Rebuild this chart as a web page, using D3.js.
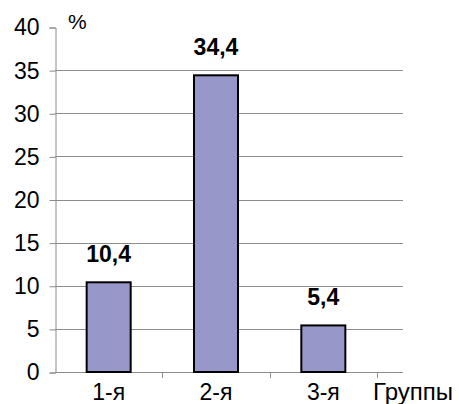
<!DOCTYPE html>
<html>
<head>
<meta charset="utf-8">
<script src="https://cdn.jsdelivr.net/npm/d3@7"></script>
<style>
  body { margin: 0; background: #fff; }
  text { font-family: "Liberation Sans", Arial, sans-serif; }
</style>
</head>
<body>
<div id="chart"></div>
<script>
// data
var groups = ["1-я", "2-я", "3-я"];
var percents = [10.4, 34.4, 5.4];
var valueLabels = ["10,4", "34,4", "5,4"];
var yTicks = [0, 5, 10, 15, 20, 25, 30, 35, 40];

var w = 459, h = 404;

var svg = d3.select("#chart")
    .append("svg")
    .attr("width", w)
    .attr("height", h);

// plot area (note: "top" is taken by window.top)
var plotLeft = 55, plotRight = 377, gridEnd = 403, plotTop = 27, plotBottom = 372;

var x = d3.scaleBand().domain(groups).range([plotLeft, plotRight]).paddingInner(0.59).paddingOuter(0.295);
var xTicks = d3.scaleBand().domain(groups).range([plotLeft, plotRight]);
var y = d3.scaleLinear().domain([0, 40]).range([plotBottom, plotTop]);

// gridlines
svg.append("g")
    .selectAll("line")
    .data(yTicks.filter(function(d) { return d > 0 && d < 40; }))
    .enter()
    .append("line")
    .attr("x1", plotLeft)
    .attr("x2", gridEnd)
    .attr("y1", function(d) { return Math.round(y(d)) + 0.5; })
    .attr("y2", function(d) { return Math.round(y(d)) + 0.5; })
    .attr("stroke", "#8c8c8c")
    .attr("stroke-width", 1);

// y axis
var yAxis = d3.axisLeft(y).tickValues(yTicks).tickSize(6).tickPadding(10);
var gy = svg.append("g")
    .attr("transform", "translate(" + (plotLeft + 0.5) + ",0.5)")
    .call(yAxis);
gy.select(".domain").attr("stroke", "#8c8c8c");
gy.selectAll(".tick line").attr("stroke", "#8c8c8c");
gy.selectAll(".tick text")
    .attr("font-size", 23)
    .attr("fill", "#000")
    .style("font-family", "'Liberation Sans', Arial, sans-serif");

// x baseline
svg.append("line")
    .attr("x1", plotLeft)
    .attr("x2", gridEnd)
    .attr("y1", Math.round(y(0)) + 0.5)
    .attr("y2", Math.round(y(0)) + 0.5)
    .attr("stroke", "#8c8c8c");

// x category ticks
var tickPos = groups.map(function(g) { return xTicks(g) + xTicks.bandwidth(); });
svg.append("g")
    .selectAll("line")
    .data(tickPos)
    .enter()
    .append("line")
    .attr("x1", function(d) { return Math.round(d) + 0.5; })
    .attr("x2", function(d) { return Math.round(d) + 0.5; })
    .attr("y1", y(0))
    .attr("y2", y(0) + 6)
    .attr("stroke", "#8c8c8c");

// bars
svg.append("g")
    .selectAll("rect")
    .data(percents)
    .enter()
    .append("rect")
    .attr("x", function(d, i) { return x(groups[i]); })
    .attr("y", function(d) { return y(d); })
    .attr("width", x.bandwidth())
    .attr("height", function(d) { return y(0) - y(d); })
    .attr("fill", "#9797c9")
    .attr("stroke", "#000")
    .attr("stroke-width", 2);

// value labels
svg.append("g")
    .selectAll("text")
    .data(percents)
    .enter()
    .append("text")
    .attr("x", function(d, i) { return x(groups[i]) + x.bandwidth() / 2; })
    .attr("y", function(d) { return y(d) - 20; })
    .attr("text-anchor", "middle")
    .attr("font-size", 23)
    .attr("font-weight", "bold")
    .text(function(d, i) { return valueLabels[i]; });

// category labels
svg.append("g")
    .selectAll("text")
    .data(groups)
    .enter()
    .append("text")
    .attr("x", function(d) { return xTicks(d) + xTicks.bandwidth() / 2; })
    .attr("y", 400)
    .attr("text-anchor", "middle")
    .attr("font-size", 23)
    .text(function(d) { return d; });

// axis titles
svg.append("text")
    .attr("x", 373)
    .attr("y", 400)
    .attr("font-size", 24)
    .text("Группы");

svg.append("text")
    .attr("x", 68)
    .attr("y", 29)
    .attr("font-size", 21)
    .text("%");
</script>
</body>
</html>
